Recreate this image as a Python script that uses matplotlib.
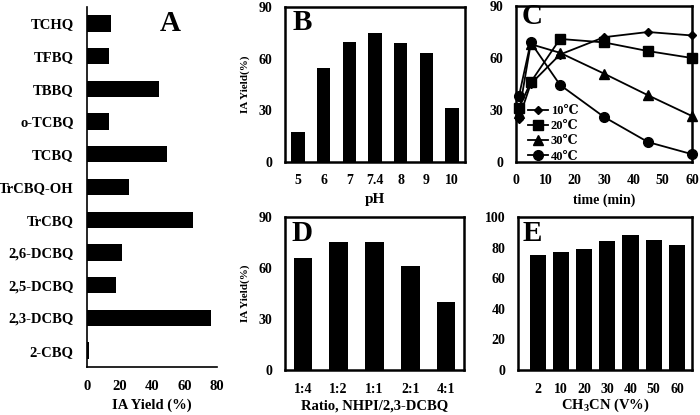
import matplotlib
matplotlib.use('Agg')
import matplotlib.pyplot as plt

# panel A: quinone screening
quinones = ['TCHQ', 'TFBQ', 'TBBQ', 'o-TCBQ', 'TCBQ', 'TrCBQ-OH', 'TrCBQ',
            '2,6-DCBQ', '2,5-DCBQ', '2,3-DCBQ', '2-CBQ']
yield_a = [15, 13.5, 44, 13.5, 49, 26, 65, 21.5, 18, 76, 1.5]

# panel B: pH
ph_labels = ['5', '6', '7', '7.4', '8', '9', '10']
yield_b = [17.5, 54.5, 69.5, 75, 69, 63, 31.5]

# panel C: time course at four temperatures
times = [1, 5, 15, 30, 45, 60]
temp_labels = ['10℃', '20℃', '30℃', '40℃']
yield_c = [
    [25, 45, 62, 72, 75, 73],
    [31, 46, 71, 69, 64, 60],
    [28, 68, 63, 51, 38.5, 26.5],
    [38, 69, 44.5, 26, 11.5, 4.5],
]
markers = ['D', 's', '^', 'o']
msizes = [4, 7, 6.5, 7]

# panel D: NHPI / 2,3-DCBQ ratio
ratio_labels = ['1:4', '1:2', '1:1', '2:1', '4:1']
yield_d = [66, 75.5, 75, 61, 40]

# panel E: CH3CN content
ch3cn_labels = ['2', '10', '20', '30', '40', '50', '60']
yield_e = [75, 77, 79, 84.5, 88.5, 85, 82]

plt.rcParams['font.family'] = ['Liberation Serif', 'DejaVu Serif']
plt.rcParams['font.weight'] = 'bold'
plt.rcParams['mathtext.fontset'] = 'custom'
plt.rcParams['mathtext.rm'] = 'Liberation Serif:bold'
plt.rcParams['mathtext.bf'] = 'Liberation Serif:bold'

W, H = 700, 415
fig = plt.figure(figsize=(7, 4.15), dpi=100)


def box(x0, y0, x1, y1):
    # pixel box (top-left origin) -> axes
    return fig.add_axes([x0 / W, (H - y1) / H, (x1 - x0) / W, (y1 - y0) / H])


def boxed(ax):
    for s in ax.spines.values():
        s.set_linewidth(1.8)
    ax.tick_params(length=0, labelsize=10, pad=9)


def letter(ax, s, x, y):
    ax.text(x, y, s, transform=ax.transAxes, fontsize=21, fontweight='bold',
            ha='center', va='center')


# A
ax = box(87, 7, 217, 367)
pos = list(range(len(quinones)))[::-1]
ax.barh(pos, yield_a, height=0.5, color='black')
ax.set_yticks(pos)
ax.set_yticklabels(quinones)
ax.set_ylim(-0.5, len(quinones) - 0.5)
ax.set_xlim(0, 80)
ax.set_xticks([0, 20, 40, 60, 80])
ax.spines['top'].set_visible(False)
ax.spines['right'].set_visible(False)
ax.spines['left'].set_linewidth(1.2)
ax.spines['bottom'].set_linewidth(1.2)
ax.tick_params(length=0, labelsize=10.5)
ax.tick_params(axis='y', pad=9.5)
ax.tick_params(axis='x', pad=9)
ax.set_xlabel('IA Yield (%)', fontsize=10.5, fontweight='bold', labelpad=4)
letter(ax, 'A', 0.64, 0.955)

# B
ax = box(285, 7, 465, 162)
ax.bar(range(len(ph_labels)), yield_b, width=0.52, color='black')
ax.set_xticks(range(len(ph_labels)))
ax.set_xticklabels(ph_labels)
ax.set_xlim(-0.5, len(ph_labels) - 0.5)
ax.set_ylim(0, 90)
ax.set_yticks([0, 30, 60, 90])
boxed(ax)
ax.set_xlabel('pH', fontsize=11, fontweight='bold', labelpad=4)
ax.set_ylabel('IA Yield(%)', fontsize=8, fontweight='bold', labelpad=6)
letter(ax, 'B', 0.095, 0.9)

# C
ax = box(516, 6, 692, 162)
for vals, m, ms, lab in zip(yield_c, markers, msizes, temp_labels):
    ax.plot(times, vals, color='black', marker=m, markersize=ms, linewidth=1.3,
            label=lab, clip_on=False)
ax.set_xlim(0, 60)
ax.set_ylim(0, 90)
ax.set_xticks(range(0, 61, 10))
ax.set_yticks([0, 30, 60, 90])
boxed(ax)
ax.set_xlabel('time (min)', fontsize=10, fontweight='bold', labelpad=4)
ax.legend(loc='lower left', bbox_to_anchor=(0.02, -0.06), frameon=False,
          fontsize=9, handlelength=1.6, handletextpad=0.2, labelspacing=0.25,
          borderpad=0.2)
letter(ax, 'C', 0.09, 0.935)

# D
ax = box(285, 217, 464, 370)
ax.bar(range(len(ratio_labels)), yield_d, width=0.52, color='black')
ax.set_xticks(range(len(ratio_labels)))
ax.set_xticklabels(ratio_labels)
ax.set_xlim(-0.5, len(ratio_labels) - 0.5)
ax.set_ylim(0, 90)
ax.set_yticks([0, 30, 60, 90])
boxed(ax)
ax.set_xlabel('Ratio, NHPI/2,3-DCBQ', fontsize=10.5, fontweight='bold', labelpad=3)
ax.set_ylabel('IA Yield(%)', fontsize=8, fontweight='bold', labelpad=6)
letter(ax, 'D', 0.095, 0.895)

# E
ax = box(518, 217, 692, 370)
ax.bar(range(len(ch3cn_labels)), yield_e, width=0.7, color='black')
ax.set_xticks(range(len(ch3cn_labels)))
ax.set_xticklabels(ch3cn_labels)
ax.set_xlim(-0.85, len(ch3cn_labels) - 0.35)
ax.set_ylim(0, 100)
ax.set_yticks(range(0, 101, 20))
boxed(ax)
ax.set_xlabel(r'CH$_\mathrm{3}$CN (V%)', fontsize=10.5, fontweight='bold', labelpad=1)
letter(ax, 'E', 0.08, 0.89)

plt.savefig('out.png', dpi=100)
